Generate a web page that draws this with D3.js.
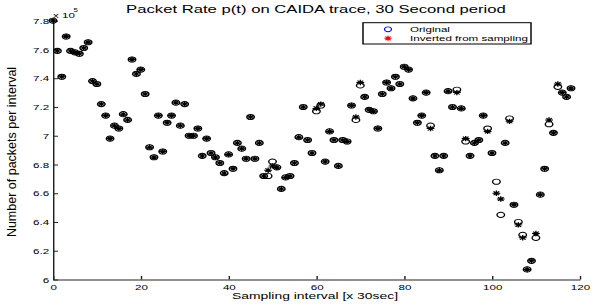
<!DOCTYPE html>
<html><head><meta charset="utf-8">
<script src="https://d3js.org/d3.v7.min.js"></script>
<style>html,body{margin:0;padding:0;background:#fff;} svg{display:block}</style>
</head><body><svg id="c" width="605" height="308"></svg>
<script>
const intervals = [0,1,2,3,4,5,6,7,8,9,10,11,12,13,14,15,16,17,18,19,20,21,22,23,24,25,26,27,28,29,30,31,32,33,34,35,36,37,38,39,40,41,42,43,44,45,46,47,48,49,50,51,52,53,54,55,56,57,58,59,60,61,62,63,64,65,66,67,68,69,70,71,72,73,74,75,76,77,78,79,80,81,82,83,84,85,86,87,88,89,90,91,92,93,94,95,96,97,98,99,100,101,102,103,104,105,106,107,108,109,110,111,112,113,114,115,116,117,118];
const original = [7.80,7.59,7.41,7.69,7.59,7.58,7.57,7.61,7.65,7.38,7.36,7.22,7.14,6.98,7.07,7.05,7.15,7.11,7.53,7.43,7.46,7.29,6.92,6.85,7.14,6.89,7.09,7.14,7.23,7.07,7.22,7.00,7.00,7.05,6.86,6.98,6.88,6.85,6.81,6.74,6.87,6.77,6.95,6.91,6.84,7.13,6.84,6.95,6.72,6.72,6.82,6.78,6.63,6.71,6.72,6.81,6.99,7.20,6.97,6.88,7.17,7.21,6.82,7.03,6.97,6.79,6.97,6.96,7.21,7.11,7.35,7.27,7.18,7.17,7.05,7.29,7.37,7.33,7.41,7.36,7.48,7.46,7.26,7.09,7.14,7.30,7.07,6.86,6.76,6.86,7.31,7.20,7.32,7.19,6.96,6.86,6.95,6.97,7.14,7.05,6.88,6.68,6.45,6.95,7.12,6.52,6.40,6.31,6.07,6.13,6.29,6.59,6.77,7.08,7.02,7.34,7.30,7.27,7.33];
const inverted = [7.80,7.59,7.41,7.69,7.59,7.58,7.57,7.61,7.65,7.38,7.36,7.22,7.14,6.98,7.07,7.05,7.15,7.11,7.53,7.43,7.46,7.29,6.92,6.85,7.14,6.89,7.09,7.14,7.23,7.07,7.22,7.00,7.00,7.05,6.86,6.98,6.88,6.85,6.81,6.74,6.87,6.77,6.95,6.91,6.84,7.13,6.84,6.95,6.72,6.76,6.79,6.78,6.63,6.71,6.72,6.81,6.99,7.20,6.97,6.88,7.19,7.22,6.82,7.03,6.97,6.79,6.97,6.96,7.21,7.13,7.37,7.27,7.18,7.17,7.05,7.29,7.37,7.33,7.41,7.36,7.48,7.46,7.26,7.09,7.14,7.30,7.05,6.86,6.76,6.86,7.31,7.20,7.30,7.19,6.98,6.86,6.95,6.97,7.14,7.03,6.88,6.60,6.56,6.95,7.10,6.52,6.38,6.29,6.07,6.13,6.32,6.59,6.77,7.11,7.02,7.36,7.30,7.27,7.33];
const xTicks = [0,20,40,60,80,100,120];
const yTicks = [6,6.2,6.4,6.6,6.8,7,7.2,7.4,7.6,7.8];
const yTickLabels = ["6","6.2","6.4","6.6","6.8","7","7.2","7.4","7.6","7.8"];
const titleText = "Packet Rate p(t) on CAIDA trace, 30 Second period";
const xLabel = "Sampling interval [x 30sec]";
const yLabel = "Number of packets per interval";
const legendLabels = ["Original","Inverted from sampling"];
const exponent = "5";

const SX = 1.45;
const FONT = "'Liberation Sans', Arial, Helvetica, sans-serif";
const svg = d3.select("#c");
const g = svg.append("g").attr("transform", `scale(${SX},1)`).style("font-family", FONT);
const x = d3.scaleLinear().domain([0,120]).range([53/SX, 579.8/SX]);
const y = d3.scaleLinear().domain([6,7.8]).range([279.5, 20.7]);

const axisColor = "#222";
// y axis
const ya = g.append("g").attr("transform", `translate(${x(0)},0)`)
  .call(d3.axisLeft(y).tickValues(yTicks).tickFormat((d,i)=>yTickLabels[i]).tickSizeInner(-5/SX).tickSizeOuter(0).tickPadding(2.6));
ya.selectAll("text").attr("font-size", 8).attr("font-family", FONT).attr("fill","#000");
ya.selectAll("line,path").attr("stroke", axisColor).attr("stroke-width", 1);
// x axis
const xa = g.append("g").attr("transform", `translate(0,${y(6)})`)
  .call(d3.axisBottom(x).tickValues(xTicks).tickFormat(d=>String(d)).tickSizeInner(-3.5).tickSizeOuter(0).tickPadding(4.5));
xa.selectAll("text").attr("font-size", 8).attr("font-family", FONT).attr("fill","#000");
xa.selectAll("line,path").attr("stroke", axisColor).attr("stroke-width", 1);

// exponent label
g.append("text").attr("x", 53/SX).attr("y", 18.3).attr("font-size", 8).attr("fill","#000").text("x 10");
g.append("text").attr("x", 73.5/SX).attr("y", 12).attr("font-size", 5.5).attr("fill","#000").text(exponent);

// title
g.append("text").attr("x", 316/SX).attr("y", 12.7).attr("text-anchor","middle").attr("font-size", 11.5).attr("fill","#000").text(titleText);
// x label
g.append("text").attr("x", 315/SX).attr("y", 299).attr("text-anchor","middle").attr("font-size", 9.6).attr("fill","#000").text(xLabel);
// y label (drawn unscaled)
svg.append("text").attr("transform", `translate(15.5,152) rotate(-90)`).attr("text-anchor","middle")
  .attr("font-family", FONT).attr("font-size", 12.5).attr("fill","#000").text(yLabel);

const R = 2.6;
function starPath(s){ const d = s*0.72; return `M${-s},0H${s}M0,${-s}V${s}M${-d},${-d}L${d},${d}M${-d},${d}L${d},${-d}`; }
const pts = intervals.map((t,i)=>({t, o: original[i], v: inverted[i]}));
g.append("g").selectAll("circle").data(pts).join("circle")
  .attr("cx", d=>x(d.t)).attr("cy", d=>y(d.o)).attr("r", R)
  .attr("fill","none").attr("stroke","#000").attr("stroke-width",0.95);
g.append("g").selectAll("path").data(pts).join("path")
  .attr("transform", d=>`translate(${x(d.t)},${y(d.v)})`).attr("d", starPath(2.7))
  .attr("fill","none").attr("stroke","#000").attr("stroke-width",0.95);

// legend
const lg = g.append("g");
lg.append("rect").attr("x", 363/SX).attr("y", 22.7).attr("width", (531-363)/SX).attr("height", 21.3)
  .attr("fill","#fff").attr("stroke","#000").attr("stroke-width",1);
lg.append("circle").attr("cx", 388/SX).attr("cy", 29.3).attr("r", 2.4).attr("fill","none").attr("stroke","#0000ff").attr("stroke-width",0.9);
lg.append("path").attr("transform", `translate(${388/SX},38.3)`).attr("d", starPath(2.5)).attr("fill","none").attr("stroke","#ff0000").attr("stroke-width",0.9);
lg.append("text").attr("x", 410/SX).attr("y", 32).attr("font-size", 8).attr("fill","#000").text(legendLabels[0]);
lg.append("text").attr("x", 410/SX).attr("y", 40.8).attr("font-size", 8).attr("fill","#000").text(legendLabels[1]);
</script></body></html>
